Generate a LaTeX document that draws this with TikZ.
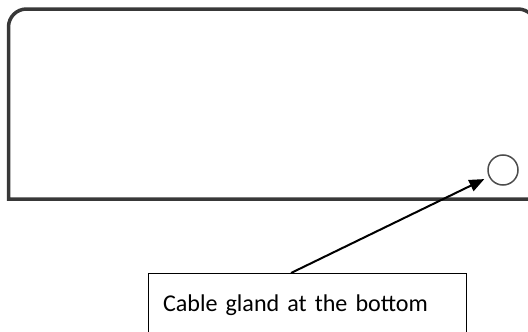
\documentclass[tikz,border=0pt]{standalone}
\usepackage{fontspec}
\setmainfont{Carlito}
\usetikzlibrary{positioning,arrows.meta}
\pgfmathsetmacro{\encrad}{18}
\pgfmathsetmacro{\glandsize}{30}

\tikzset{
  enclosure/.style={draw=black!78, line width=3.5pt},
  gland/.style={circle, draw=black!70, line width=1.5pt, minimum size=\glandsize pt, inner sep=0pt},
  label_box/.style={draw=black, line width=0.9pt, anchor=north, text width=288pt, align=left,
    inner xsep=15pt, inner ysep=0pt, text height=38pt, text depth=40pt, font=\fontsize{24.1}{28}\selectfont},
  pointer/.style={-{Triangle[length=15pt,width=12pt]}, line width=2pt, shorten >=5pt},
}

\begin{document}
\begin{tikzpicture}[x=1pt, y=-1pt]
    \useasboundingbox (0,0) rectangle (528,332);
    \clip (0,0) rectangle (528,332);
    % enclosure outline (right side runs off the page)
    \draw[enclosure] (560,199) -- (8.5,199) -- (8.5,9+\encrad)
        arc[start angle=180, end angle=270, radius=\encrad] -- (518,9)
        arc[start angle=270, end angle=360, radius=\encrad] -- (536,199);
    % cable gland
    \node[gland] (gland) at (503,170) {};
    % label
    \node[label_box] (label_box) at (307,273) {Cable gland at the bottom};
    % arrow to gland
    \draw[pointer] ([xshift=-16pt]label_box.north) -- (gland);
\end{tikzpicture}
\end{document}
